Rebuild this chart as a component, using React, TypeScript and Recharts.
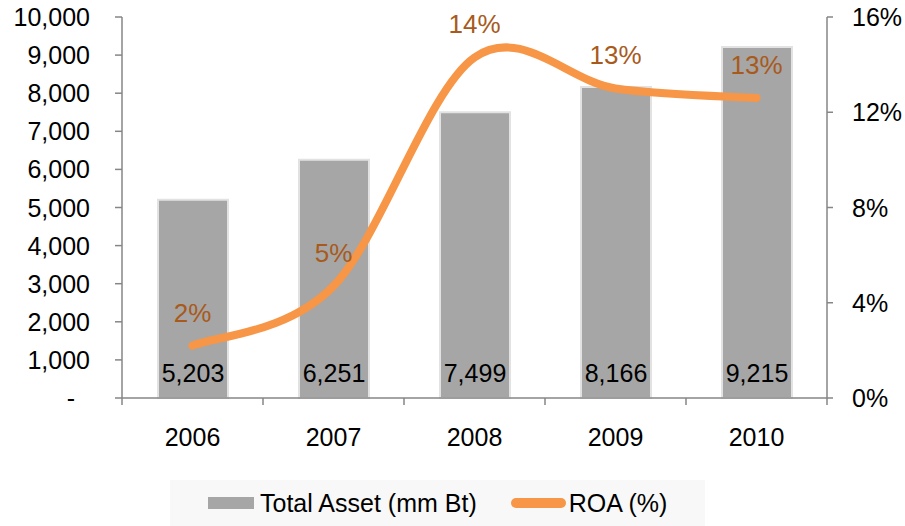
import { Bar, ComposedChart, LabelList, Legend, Line, XAxis, YAxis } from "recharts"

// values
const years = ["2006", "2007", "2008", "2009", "2010"]
const totalAsset = [5203, 6251, 7499, 8166, 9215]
const roa = [2.2, 4.7, 14.3, 13.0, 12.6]
const assetTicks = [0, 1000, 2000, 3000, 4000, 5000, 6000, 7000, 8000, 9000, 10000]
const roaTicks = [0, 4, 8, 12, 16]

const data = years.map((year, i) => ({ year, asset: totalAsset[i], roa: roa[i] }))

const W = 905
const H = 526
const LEFT_W = 122
const RIGHT_W = 78
const TOP = 17
const BOTTOM = 128
const PLOT_BOTTOM = H - BOTTOM
const STEP = (W - LEFT_W - RIGHT_W) / years.length

const FONT = "'Liberation Sans', Arial, sans-serif"
const AXIS = "#868686"
const BAR = "#A6A6A6"
const ORANGE = "#F79646"
const LABEL = "#A85A1C"

// Excel-like smoothed line (Catmull-Rom through the points)
const excelSmooth = (context: any) => {
  let pts: number[][] = []
  return {
    areaStart() {},
    areaEnd() {},
    lineStart() {
      pts = []
    },
    lineEnd() {
      if (!pts.length) return
      context.moveTo(pts[0][0], pts[0][1])
      for (let i = 0; i < pts.length - 1; i++) {
        const p0 = pts[i - 1] || pts[i]
        const p1 = pts[i]
        const p2 = pts[i + 1]
        const p3 = pts[i + 2] || p2
        context.bezierCurveTo(
          p1[0] + (p2[0] - p0[0]) / 6,
          p1[1] + (p2[1] - p0[1]) / 6,
          p2[0] - (p3[0] - p1[0]) / 6,
          p2[1] - (p3[1] - p1[1]) / 6,
          p2[0],
          p2[1]
        )
      }
    },
    point(x: number, y: number) {
      pts.push([x, y])
    },
  }
}

const LeftTick = (props: any) => {
  const { x, y, payload } = props
  const zero = payload.value === 0
  return (
    <text
      x={x}
      y={y}
      dx={zero ? -15 : 0}
      textAnchor="end"
      dominantBaseline="central"
      fontSize={25}
      fontFamily={FONT}
      fill="#000"
    >
      {zero ? "-" : payload.value.toLocaleString("en-US")}
    </text>
  )
}

const RightTick = (props: any) => {
  const { x, y, payload } = props
  return (
    <text x={x} y={y} textAnchor="start" dominantBaseline="central" fontSize={25} fontFamily={FONT} fill="#000">
      {payload.value}%
    </text>
  )
}

const YearTick = (props: any) => {
  const { x, payload, index } = props
  return (
    <g>
      <line x1={x - STEP / 2} x2={x - STEP / 2} y1={PLOT_BOTTOM} y2={PLOT_BOTTOM + 7} stroke={AXIS} strokeWidth={1.5} />
      {index === years.length - 1 && (
        <line x1={x + STEP / 2} x2={x + STEP / 2} y1={PLOT_BOTTOM} y2={PLOT_BOTTOM + 7} stroke={AXIS} strokeWidth={1.5} />
      )}
      <text x={x} y={437} textAnchor="middle" dominantBaseline="central" fontSize={25} fontFamily={FONT} fill="#000">
        {payload.value}
      </text>
    </g>
  )
}

const AssetLabel = (props: any) => {
  const { x, y, width, height, value } = props
  return (
    <text
      x={x + width / 2}
      y={y + height - 25}
      textAnchor="middle"
      dominantBaseline="central"
      fontSize={25}
      fontFamily={FONT}
      fill="#000"
    >
      {Number(value).toLocaleString("en-US")}
    </text>
  )
}

const RoaLabel = (props: any) => {
  const { x, y, value } = props
  return (
    <text x={x} y={y - 33} textAnchor="middle" dominantBaseline="central" fontSize={26} fontFamily={FONT} fill={LABEL}>
      {Math.round(value)}%
    </text>
  )
}

const renderLegend = () => (
  <div
    style={{
      background: "#F8F8F8",
      height: 46,
      display: "flex",
      alignItems: "center",
      fontFamily: FONT,
      fontSize: 25,
      color: "#000",
      paddingLeft: 38,
      boxSizing: "border-box",
    }}
  >
    <span style={{ width: 46, height: 12, background: BAR, marginRight: 6 }} />
    <span style={{ marginRight: 34 }}>Total Asset (mm Bt)</span>
    <span style={{ width: 55, height: 10, borderRadius: 5, background: ORANGE, marginRight: 3 }} />
    <span>ROA (%)</span>
  </div>
)

export default function App() {
  return (
    <div style={{ position: "absolute", left: 0, top: 0, width: W, height: H, background: "#fff" }}>
      <ComposedChart width={W} height={H} data={data} margin={{ top: TOP, right: 0, bottom: 0, left: 0 }}>
        <XAxis
          dataKey="year"
          axisLine={{ stroke: AXIS, strokeWidth: 1.5 }}
          tickLine={false}
          tick={<YearTick />}
          interval={0}
          height={BOTTOM}
        />
        <YAxis
          yAxisId="left"
          domain={[0, 10000]}
          ticks={assetTicks}
          width={LEFT_W}
          axisLine={{ stroke: AXIS, strokeWidth: 1.5 }}
          tickLine={{ stroke: AXIS, strokeWidth: 1.5 }}
          tickSize={7}
          tickMargin={25}
          tick={<LeftTick />}
          interval={0}
        />
        <YAxis
          yAxisId="right"
          orientation="right"
          domain={[0, 16]}
          ticks={roaTicks}
          width={RIGHT_W}
          axisLine={{ stroke: AXIS, strokeWidth: 1.5 }}
          tickLine={{ stroke: AXIS, strokeWidth: 1.5 }}
          tickSize={6}
          tickMargin={19}
          tick={<RightTick />}
          interval={0}
        />
        <Legend
          layout="horizontal"
          verticalAlign="middle"
          align="center"
          content={renderLegend}
          wrapperStyle={{ position: "absolute", left: 170, top: 480, width: 535, height: 46 }}
        />
        <Bar
          yAxisId="left"
          dataKey="asset"
          name="Total Asset (mm Bt)"
          fill={BAR}
          stroke="#E2E2E2"
          strokeWidth={2}
          barSize={70}
          isAnimationActive={false}
        >
          <LabelList dataKey="asset" content={<AssetLabel />} />
        </Bar>
        <Line
          yAxisId="right"
          type={excelSmooth as any}
          dataKey="roa"
          name="ROA (%)"
          stroke={ORANGE}
          strokeWidth={8}
          strokeLinecap="round"
          dot={false}
          activeDot={false}
          isAnimationActive={false}
        >
          <LabelList dataKey="roa" content={<RoaLabel />} />
        </Line>
      </ComposedChart>
    </div>
  )
}
